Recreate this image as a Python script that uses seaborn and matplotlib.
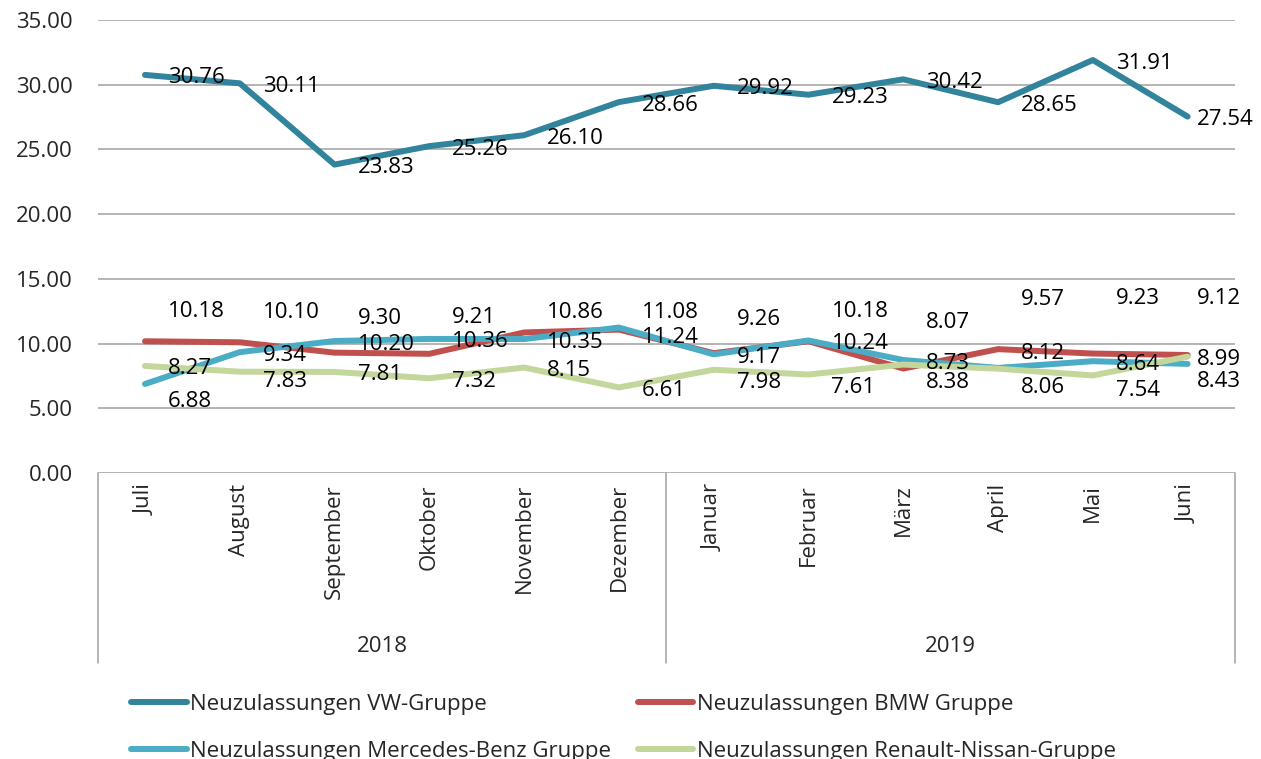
import matplotlib
matplotlib.use("Agg")
import matplotlib.pyplot as plt
from matplotlib.lines import Line2D
import seaborn as sns
import pandas as pd

# data
months = ["Juli", "August", "September", "Oktober", "November", "Dezember",
          "Januar", "Februar", "März", "April", "Mai", "Juni"]
years = ["2018", "2019"]
months_per_year = [6, 6]

series_names = ["Neuzulassungen VW-Gruppe", "Neuzulassungen BMW Gruppe",
                "Neuzulassungen Mercedes-Benz Gruppe", "Neuzulassungen Renault-Nissan-Gruppe"]
vw = [30.76, 30.11, 23.83, 25.26, 26.10, 28.66, 29.92, 29.23, 30.42, 28.65, 31.91, 27.54]
bmw = [10.18, 10.10, 9.30, 9.21, 10.86, 11.08, 9.26, 10.18, 8.07, 9.57, 9.23, 9.12]
mercedes = [6.88, 9.34, 10.20, 10.36, 10.35, 11.24, 9.17, 10.24, 8.73, 8.12, 8.64, 8.43]
renault = [8.27, 7.83, 7.81, 7.32, 8.15, 6.61, 7.98, 7.61, 8.38, 8.06, 7.54, 8.99]

colors = ["#31849B", "#C0504D", "#4BACC6", "#C3D69B"]

# label placement (pixels, positive = down), default per series plus a few nudges
label_dy = [3, -30, 3, 3]
label_nudge = {
    1: {2: -34, 3: -36, 4: -20, 5: -17, 6: -34, 8: -46, 9: -50, 10: -55, 11: -56},
    2: {0: 18, 5: 10, 9: -14, 11: 18},
    3: {1: 10, 6: 13, 7: 13, 8: 18, 9: 19, 10: 15},
}

values = [vw, bmw, mercedes, renault]
df = pd.DataFrame({
    "pos": list(range(len(months))) * len(series_names),
    "value": sum(values, []),
    "series": [s for s in series_names for _ in months],
})

sns.set_style("white")
plt.rcParams["font.family"] = ["Open Sans", "DejaVu Sans"]
FS = 16

fig = plt.figure(figsize=(12.61, 7.59), dpi=100)
ax = fig.add_axes([0.0774, 0.3768, 0.902, 0.5968])

sns.lineplot(data=df, x="pos", y="value", hue="series", hue_order=series_names,
             palette=dict(zip(series_names, colors)), linewidth=4.3, sort=False,
             legend=False, ax=ax, solid_capstyle="round", solid_joinstyle="round")

ax.set_xlim(-0.5, len(months) - 0.5)
ax.set_ylim(0, 35)
ax.set_yticks(range(0, 36, 5))
ax.set_yticklabels([f"{v:.2f}" for v in range(0, 36, 5)], fontsize=FS)
ax.yaxis.grid(True, color="#A0A0A0", linewidth=1.1)
ax.set_axisbelow(True)
for sp in ax.spines.values():
    sp.set_visible(False)
ax.tick_params(axis="y", length=0, pad=18)
ax.set_xlabel("")
ax.set_ylabel("")

ax.set_xticks(range(len(months)))
ax.set_xticklabels(months, rotation=90, fontsize=FS)
ax.tick_params(axis="x", length=0, pad=8)

# data labels
for k, vals in enumerate(values):
    for i, v in enumerate(vals):
        dx = 23 if i < len(vals) - 1 else 9
        dy = label_nudge.get(k, {}).get(i, label_dy[k])
        ax.annotate(f"{v:.2f}", xy=(i, v), xytext=(dx, -dy), textcoords="offset pixels",
                    ha="left", va="center", fontsize=FS, color="black")

# two-level category axis: separators and year labels
trans = ax.get_xaxis_transform()
edges = [-0.5]
for n in months_per_year:
    edges.append(edges[-1] + n)
for e in edges:
    ax.plot([e, e], [0, -0.42], transform=trans, color="#A0A0A0", lw=1.1, clip_on=False)
for j, y in enumerate(years):
    ax.text((edges[j] + edges[j + 1]) / 2, -0.384, y, transform=trans,
            ha="center", va="center", fontsize=FS)

# legend: row 1 VW / BMW, row 2 Mercedes / Renault
order = [0, 2, 1, 3]
handles = [Line2D([0], [0], color=colors[i], lw=4.3, solid_capstyle="round") for i in order]
fig.legend(handles, [series_names[i] for i in order], loc="upper left",
           bbox_to_anchor=(0.104, 0.0856), ncol=2, frameon=False, fontsize=FS,
           handlelength=2.5, handletextpad=0.15, columnspacing=1.2, labelspacing=1.17,
           borderpad=0, borderaxespad=0)

fig.savefig("out.png", dpi=100)
